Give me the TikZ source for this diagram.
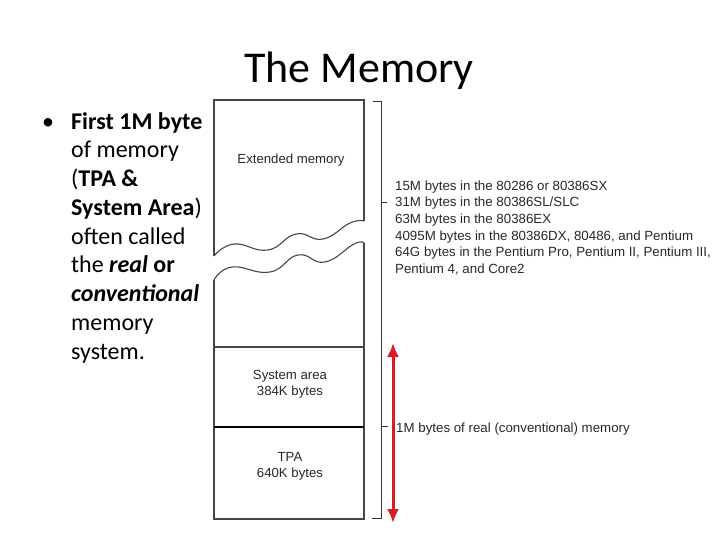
\documentclass[tikz,border=0pt]{standalone}
\usepackage{fontspec}
\setmainfont{Carlito}
\newfontfamily\mapfont{Liberation Sans}
\usetikzlibrary{arrows.meta}
\definecolor{mapGray}{RGB}{70,70,70}
\definecolor{mapRed}{RGB}{218,28,36}
\definecolor{mapText}{RGB}{40,40,40}
\tikzset{
  maplabel/.style={font=\mapfont\fontsize{13.2}{16.2}\selectfont, text=mapText, align=center, inner sep=0pt},
  sidetext/.style={font=\mapfont\fontsize{13.3}{16.6}\selectfont, text=mapText, align=left, inner sep=0pt, anchor=north west},
  mapline/.style={draw=mapGray, line width=1.1pt},
  bracketline/.style={draw=black!80, line width=0.9pt},
  realarrow/.style={{Latex[length=14pt,width=12pt]}-{Latex[length=14pt,width=12pt]}, draw=mapRed, fill=mapRed, line width=3pt}
}
\begin{document}
\begin{tikzpicture}[
  x=1pt, y=-1pt,
  slidetext/.style={font=\fontsize{24}{28.75}\selectfont, align=flush left, inner sep=0pt, anchor=north west, text width=160pt},
  wave/.style={mapline, smooth, tension=0.8}
]
\useasboundingbox (0,0) rectangle (720,540);

\node[font=\fontsize{44}{50}\selectfont, anchor=base] (title) at (359,83) {The Memory};

% Bullet text
\node[font=\fontsize{24}{28.75}\selectfont, anchor=base, inner sep=0pt] (dot) at (48,130) {\textbullet};
\node[slidetext] (notes) at (71,112) {\textbf{First 1M byte}\\
of memory\\
(\textbf{TPA \&}\\
\textbf{System Area})\\
often called\\
the \textbf{\textit{real} or}\\
\textbf{\textit{conventional}}\\
memory\\
system.};

% Memory map
\coordinate (topL) at (214,100);
\coordinate (topR) at (364,100);
\coordinate (botL) at (214,519);
\coordinate (botR) at (364,519);
\draw[mapline] (214,256) -- (topL) -- (topR) -- (364,221);
\draw[wave] plot coordinates {(364,221) (350,223) (323,239) (296,234) (268,250) (234,244) (214,256)};
\draw[mapline] (214,280) -- (botL) -- (botR) -- (364,243);
\draw[wave] plot coordinates {(364,243) (354,244) (325,262) (298,255) (270,272) (232,267) (214,280)};
\draw[mapline] (214,347) -- (364,347);
\draw[draw=black, line width=2pt] (214,427) -- (364,427);

\node[maplabel] (ext) at (291,160) {Extended memory};
\node[maplabel] (sys) at (290,384.5) {System area\\384K bytes};
\node[maplabel] (tpa) at (290,466.5) {TPA\\640K bytes};

% Bracket and labels
\coordinate (brTop) at (381,101);
\coordinate (brBot) at (381,518);
\draw[bracketline] (373,101) -- (brTop) -- (brBot) -- (372,518);
\draw[bracketline] (381,202) -- (387,202);
\draw[bracketline] (381,426) -- (388,426);

\node[sidetext] (cpus) at (395,180.5) {15M bytes in the 80286 or 80386SX\\
31M bytes in the 80386SL/SLC\\
63M bytes in the 80386EX\\
4095M bytes in the 80386DX, 80486, and Pentium\\
64G bytes in the Pentium Pro, Pentium II, Pentium III,\\
Pentium 4, and Core2};
\node[sidetext, anchor=base west] (real) at (396,432) {1M bytes of real (conventional) memory};

\coordinate (arTop) at (393,343);
\coordinate (arBot) at (393,523);
\draw[realarrow] (arTop) -- (arBot);
\end{tikzpicture}
\end{document}
